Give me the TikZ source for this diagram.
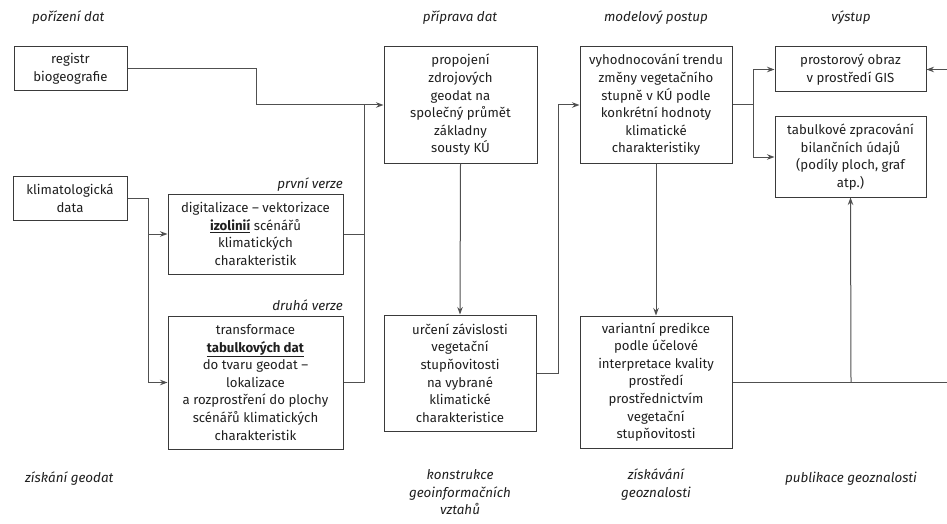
\documentclass[tikz,border=0pt]{standalone}
\usepackage{fontspec}
\setmainfont{Fira Sans}
\usetikzlibrary{arrows.meta}
\definecolor{boxc}{HTML}{3A3A3A}
\definecolor{linec}{HTML}{505050}
\begin{document}
\begin{tikzpicture}[x=1pt,y=-1pt,
  box/.style={draw=boxc, line width=1pt, align=center, inner sep=0pt,
    font=\fontsize{13.2}{17.6}\selectfont, text=black!88},
  lbl/.style={font=\fontsize{13.4}{17.8}\selectfont\itshape, text=black!88, inner sep=0pt, align=center},
  conn/.style={draw=linec, line width=1pt},
  arr/.style={conn, -{Stealth[length=7.5pt,width=5.5pt]}}]
\useasboundingbox (0,0) rectangle (947,524);
% boxes
\node[box, minimum width=113pt, minimum height=44pt] (reg) at (70.5,69) {registr\\biogeografie};
\node[box, minimum width=114pt, minimum height=44pt] (klim) at (70,198) {klimatologická\\data};
\node[box, minimum width=175pt, minimum height=80pt] (prv) at (255.5,234) {digitalizace – vektorizace\\\underline{\textbf{izolinií}} scénářů\\klimatických\\charakteristik};
\node[box, minimum width=175pt, minimum height=133pt] (dru) at (255.5,382.5) {transformace\\\underline{\textbf{tabulkových dat}}\\do tvaru geodat –\\lokalizace\\a rozprostření do plochy\\scénářů klimatických\\charakteristik};
\node[box, minimum width=153pt, minimum height=116pt] (prop) at (460.5,105) {propojení\\zdrojových\\geodat na\\společný průmět\\základny\\sousty KÚ};
\node[box, minimum width=152pt, minimum height=116pt] (vyh) at (656,105) {vyhodnocování trendu\\změny vegetačního\\stupně v KÚ podle\\konkrétní hodnoty\\klimatické\\charakteristiky};
\node[box, minimum width=151pt, minimum height=45pt] (pros) at (850.5,69.5) {prostorový obraz\\v prostředí GIS};
\node[box, minimum width=151pt, minimum height=80pt] (tab) at (850.5,157) {tabulkové zpracování\\bilančních údajů\\(podíly ploch, graf\\atp.)};
\node[box, minimum width=152pt, minimum height=116pt] (urc) at (460,373) {určení závislosti\\vegetační\\stupňovitosti\\na vybrané\\klimatické\\charakteristice};
\node[box, minimum width=152pt, minimum height=132pt] (var) at (656,382) {variantní predikce\\podle účelové\\interpretace kvality\\prostředí\\prostřednictvím\\vegetační\\stupňovitosti};
% labels
\node[lbl, anchor=base west] (l1) at (32,22) {pořízení dat};
\node[lbl, anchor=base] (l2) at (460,22) {příprava dat};
\node[lbl, anchor=base] (l3) at (656,22) {modelový postup};
\node[lbl, anchor=base] (l4) at (851,22) {výstup};
\node[lbl, anchor=base east] (pv) at (343,188) {první verze};
\node[lbl, anchor=base east] (dv) at (343,310) {druhá verze};
\node[lbl, anchor=base west] (b1) at (25,482) {získání geodat};
\node[lbl, anchor=north] (b2) at (460,469) {konstrukce\\geoinformačních\\vztahů};
\node[lbl, anchor=north] (b3) at (656,469) {získávání\\geoznalosti};
\node[lbl, anchor=base] (b4) at (851,482) {publikace geoznalosti};
% coordinates
\coordinate (jA) at (256,105);
\coordinate (jB) at (364,105);
\coordinate (jK) at (148,198);
\coordinate (jC) at (558,105);
\coordinate (jD) at (753,105);
\coordinate (jE) at (851,382);
\coordinate (jR) at (949,382);
% connectors
\draw[conn] (reg.east) -| (jA);
\draw[arr] (jA) -- (prop.west);
\draw[conn] (prv.east) -- (prv.east -| jB);
\draw[conn] (dru.east) -| (jB);
\draw[conn] (klim.east) -| (jK |- dru.west);
\draw[arr] (prv.west -| jK) -- (prv.west);
\draw[arr] (dru.west -| jK) -- (dru.west);
\draw[arr] (prop.south) -- (urc.north);
\draw[conn] (urc.east) -| (jC);
\draw[arr] (jC) -- (vyh.west);
\draw[arr] (vyh.south) -- (var.north);
\draw[conn] (vyh.east) -- (jD);
\draw[conn] (jD |- pros.west) -- (jD |- tab.west);
\draw[arr] (jD |- pros.west) -- (pros.west);
\draw[arr] (jD |- tab.west) -- (tab.west);
\draw[conn] (var.east) -- (jR);
\draw[arr] (jR) |- (pros.east);
\draw[arr] (jE) -- (tab.south);
\end{tikzpicture}
\end{document}
